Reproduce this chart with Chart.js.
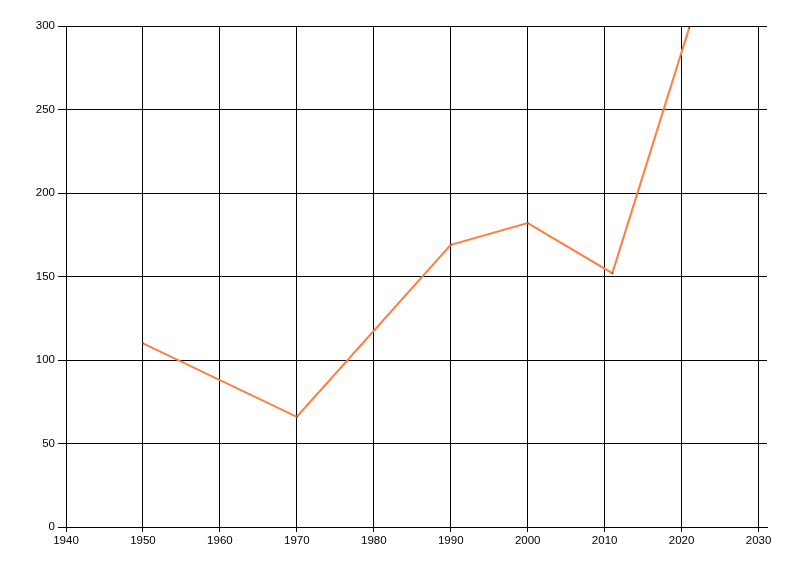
<!DOCTYPE html>
<html>
<head>
<meta charset="utf-8">
<script src="https://cdn.jsdelivr.net/npm/chart.js@4/dist/chart.umd.min.js"></script>
<style>
  html, body { margin: 0; padding: 0; background: #fff; }
  #wrap { width: 800px; height: 576px; }
</style>
</head>
<body>
<div id="wrap"><canvas id="line_chart" width="800" height="576"></canvas></div>
<script>
// values
var years = [1950, 1970, 1990, 2000, 2011, 2021];
var values = [110, 66, 169, 182, 152, 299];
var x_ticks = [1940, 1950, 1960, 1970, 1980, 1990, 2000, 2010, 2020, 2030];
var x_min = 1940, x_max = 2031.1;
var y_min = 0, y_max = 300, y_step = 50;

var points = [];
for (i = 0; i < years.length; i++) {
  points.push({ x: years[i], y: values[i] });
}

Chart.defaults.font.family = "'Liberation Sans', Arial, sans-serif";
Chart.defaults.font.size = 11.5;
Chart.defaults.color = '#000';

var ctx = document.getElementById('line_chart').getContext('2d');
var myChart = new Chart(ctx, {
  type: 'line',
  data: {
    datasets: [{
      data: points,
      borderColor: 'rgb(255,127,64)',
      borderWidth: 2,
      pointStyle: 'rect',
      pointRadius: 1.2,
      pointBackgroundColor: '#555',
      pointBorderColor: '#555',
      pointBorderWidth: 0,
      tension: 0,
      fill: false
    }]
  },
  options: {
    responsive: false,
    animation: false,
    layout: { padding: { top: 26, right: 33, left: 0, bottom: 0 } },
    plugins: { legend: { display: false }, tooltip: { enabled: false } },
    scales: {
      x: {
        type: 'linear',
        min: x_min,
        max: x_max,
        afterBuildTicks: function (s) {
          s.ticks = x_ticks.map(function (v) { return { value: v }; });
        },
        afterFit: function (s) { s.height = 49; },
        ticks: { padding: 2, maxRotation: 0, autoSkip: false, callback: function (v) { return String(v); } },
        grid: { color: '#000', lineWidth: 1, tickLength: 5 },
        border: { color: '#000', width: 1 }
      },
      y: {
        min: y_min,
        max: y_max,
        afterFit: function (s) { s.width = 66; },
        ticks: { stepSize: y_step, padding: 3 },
        grid: { color: '#000', lineWidth: 1, tickLength: 8 },
        border: { color: '#000', width: 1 }
      }
    }
  }
});
</script>
</body>
</html>
